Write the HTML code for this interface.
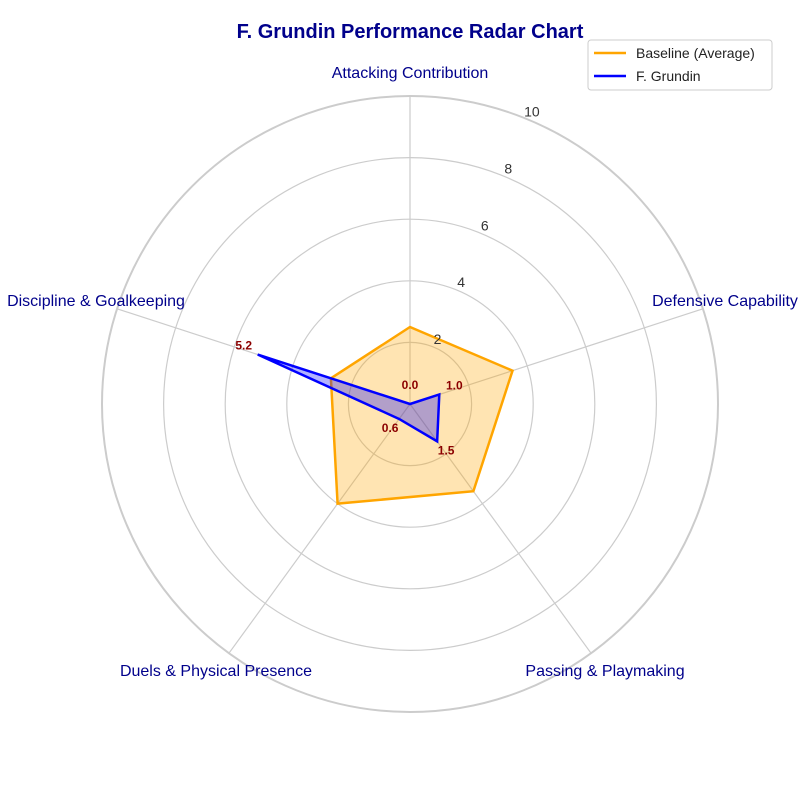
<!DOCTYPE html>
<html><head><meta charset="utf-8"><style>
body{margin:0;background:#fff;}
svg{font-family:"Liberation Sans",Arial,sans-serif;}
</style></head><body>
<svg id="chart" width="800" height="800" viewBox="0 0 800 800">
<text x="410" y="38" text-anchor="middle" font-size="20" font-weight="bold" fill="#00008b">F. Grundin Performance Radar Chart</text>
<g id="grid"></g><g id="series"></g><g id="labels"></g>
<g>
<rect x="588" y="40" width="184" height="50" rx="3" fill="#fff" stroke="#ccc"/>
<g><line x1="594" y1="53" x2="626" y2="53" stroke="orange" stroke-width="2.5"/><text x="636" y="58" font-size="14" fill="#222">Baseline (Average)</text></g>
<g><line x1="594" y1="76" x2="626" y2="76" stroke="blue" stroke-width="2.5"/><text x="636" y="81" font-size="14" fill="#222">F. Grundin</text></g>
</g>
</svg>
<script>
const categories=["Attacking Contribution","Defensive Capability","Passing & Playmaking","Duels & Physical Presence","Discipline & Goalkeeping"];
const baseline=[2.5,3.5,3.5,4.0,2.7];
const grundin=[0.0,1.0,1.5,0.6,5.2];
const ticks=[2,4,6,8,10];
const cx=410,cy=404,R=308,maxV=10;
const NS="http://www.w3.org/2000/svg";
function ang(i){return Math.PI/2-i*2*Math.PI/categories.length;}
function pt(i,v){const r=v/maxV*R,a=ang(i);return [cx+r*Math.cos(a),cy-r*Math.sin(a)];}
function mk(tag,attrs,parent){const e=document.createElementNS(NS,tag);for(const k in attrs)e.setAttribute(k,attrs[k]);parent.appendChild(e);return e;}
const grid=document.getElementById('grid'),ser=document.getElementById('series'),lab=document.getElementById('labels');
ticks.forEach(t=>{
 const c=mk('circle',{cx:cx,cy:cy,r:t/maxV*R,fill:'none',stroke:'#ccc','stroke-width':t===10?2:1.2},grid);
 
 
 const a=Math.PI/2-22.5*Math.PI/180,r=t/maxV*R;
 const tx=mk('text',{x:cx+r*Math.cos(a)+4,y:cy-r*Math.sin(a)-3,'font-size':14,fill:'#333','text-anchor':'middle'},lab);
 tx.textContent=t;
 
 
});
const catPos=[[410,78],[725,306],[605,676],[216,676],[96,306]];
categories.forEach((c,i)=>{
 const p=pt(i,maxV);
 const l=mk('line',{x1:cx,y1:cy,x2:p[0],y2:p[1],stroke:'#ccc','stroke-width':1.2},grid);
 
 
 const t=mk('text',{x:catPos[i][0],y:catPos[i][1],'font-size':16,fill:'#00008b','text-anchor':'middle'},lab);
 t.textContent=c;
 
 
});
function poly(vals,color,fill,op,name){
 const pts=vals.map((v,i)=>pt(i,v).join(',')).join(' ');
 const p=mk('polygon',{points:pts,fill:fill,'fill-opacity':op,stroke:color,'stroke-width':2.5,'stroke-linejoin':'miter'},ser);
 
 
}
poly(baseline,'orange','orange',0.3,'baseline-area');
poly(grundin,'blue','blue',0.3,'grundin-area');
const lblOff=[[0,-19],[15,-9],[9,9],[-9,9],[-14,-9]];
grundin.forEach((v,i)=>{
 const p=pt(i,v);
 const t=mk('text',{x:p[0]+lblOff[i][0],y:p[1]+lblOff[i][1]+4,'font-size':12,'font-weight':'bold',fill:'#8b0000','text-anchor':'middle'},lab);
 t.textContent=v.toFixed(1);
 
 
});
</script>
</body></html>
